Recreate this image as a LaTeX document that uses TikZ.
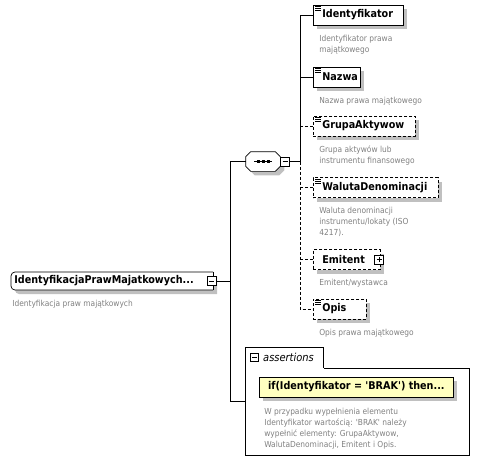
\documentclass[tikz,border=0pt]{standalone}
\usepackage{fontspec}
\setmainfont{DejaVu Sans Condensed}
\usetikzlibrary{positioning}
\usetikzlibrary{shapes.misc, shadows}

\definecolor{descgray}{RGB}{128,128,128}
\definecolor{shadowgray}{RGB}{192,192,192}
\definecolor{assertyellow}{RGB}{255,255,192}

\tikzset{
  shd/.style={drop shadow={shadow xshift=4pt, shadow yshift=-4pt, fill=shadowgray, opacity=1}},
  lbl/.style={inner sep=0pt, font=\bfseries\fontsize{10.7}{12}\selectfont},
  elembase/.style={draw, fill=white, shd, minimum height=20pt, inner xsep=0pt, inner ysep=0pt,
    font=\bfseries\fontsize{10.7}{12}\selectfont, anchor=west},
  elem/.style={elembase, text width=#1, align=left, execute at begin node={\hspace*{9pt}}},
  optelem/.style={elem=#1, dash pattern=on 3pt off 2pt},
  desc/.style={text=descgray, inner sep=0pt, align=left, font=\fontsize{8.3}{11}\selectfont},
  pmbox/.style={draw, fill=white, minimum size=9pt, inner sep=0pt, line width=0.7pt},
  minus/.style={pmbox, path picture={\draw ([xshift=-2.5pt]path picture bounding box.center) -- ([xshift=2.5pt]path picture bounding box.center);}},
  plus/.style={pmbox, path picture={
    \draw ([xshift=-2.5pt]path picture bounding box.center) -- ([xshift=2.5pt]path picture bounding box.center);
    \draw ([yshift=-2.5pt]path picture bounding box.center) -- ([yshift=2.5pt]path picture bounding box.center);}},
  seqbox/.style={minimum width=34pt, minimum height=19pt, inner sep=0pt},
  dashline/.style={dash pattern=on 3pt off 2pt},
}

\begin{document}
\begin{tikzpicture}[x=1pt, y=-1pt, line width=0.7pt]
\useasboundingbox (0,0) rectangle (481,460);

\coordinate (trunk) at (230,0);
\coordinate (branch) at (300,0);

% root element
\fill[shadowgray, rounded corners=4pt] (217,276) -- (15,276) -- (15,294) -- (217,294);
\draw[fill=white, rounded corners=4pt] (213,272) -- (11,272) -- (11,290) -- (213,290);
\draw (213,272) -- (213,290);
\node[lbl, anchor=west] (root) at (14,281) {IdentyfikacjaPrawMajatkowych...};
\node[minus] (rootminus) at (211.5,281) {};
\node[desc, anchor=north west] (rootdesc) at (12,300) {Identyfikacja praw majątkowych};

% sequence
\node[seqbox] (seq) at (263,161.5) {};
\draw[fill=white, shd] ([xshift=5pt]seq.north west) -- ([xshift=-5pt]seq.north east)
  -- ([yshift=-5pt]seq.north east) -- ([yshift=5pt]seq.south east)
  -- ([xshift=-5pt]seq.south east) -- ([xshift=5pt]seq.south west)
  -- ([yshift=5pt]seq.south west) -- ([yshift=-5pt]seq.north west) -- cycle;
\draw (seq.center) ++(-9,0) -- ++(18,0);
\foreach \d in {-5,0,5}
  \fill ([xshift=\d pt]seq.center) +(-1.5,-1.5) rectangle +(1.5,1.5);
\node[minus, right=0pt of seq] (seqminus) {};

% children
\node[elem=90pt] (ident) at (313,15) {Identyfikator};
\node[desc, below right=9pt and 6pt of ident.south west] (identdesc) {Identyfikator prawa\\majątkowego};
\node[elem=47pt] (nazwa) at (313,77) {Nazwa};
\node[desc, below right=9pt and 6pt of nazwa.south west] (nazwadesc) {Nazwa prawa majątkowego};
\node[optelem=102pt] (grupa) at (313,126) {GrupaAktywow};
\node[desc, below right=9pt and 6pt of grupa.south west] (grupadesc) {Grupa aktywów lub\\instrumentu finansowego};
\node[optelem=125pt] (waluta) at (313,187.5) {WalutaDenominacji};
\node[desc, below right=9pt and 6pt of waluta.south west] (walutadesc) {Waluta denominacji\\instrumentu/lokaty (ISO\\4217).};
\node[optelem=67pt] (emitent) at (313,259.5) {Emitent};
\node[plus] (emitentplus) at ([xshift=-1.5pt]emitent.east) {};
\node[desc, below right=9pt and 6pt of emitent.south west] (emitentdesc) {Emitent/wystawca};
\node[optelem=53pt] (opis) at (313,309) {Opis};
\node[desc, below right=9pt and 6pt of opis.south west] (opisdesc) {Opis prawa majątkowego};

% simple content marks
\foreach \n in {ident,nazwa,grupa,waluta,opis}
  \foreach \k in {2,4,6}
    \draw[line width=0.6pt] ([shift={(2,\k)}]\n.north west) -- ++(6,0);

% assertions
\node[minimum width=224pt, minimum height=87pt, inner sep=0pt, anchor=north west] (assertbox) at (245,368) {};
\node[minimum width=78pt, minimum height=20pt, inner sep=0pt, anchor=south west] (asserttab) at (assertbox.north west) {};
\draw (asserttab.south east) |- (asserttab.north west) |- (assertbox.south east) |- (asserttab.south east);
\path (asserttab.north west) -- (assertbox.south west) coordinate[midway] (assertin);
\node[minus, minimum size=8pt] (assertminus) at ([shift={(9.5,10.5)}]asserttab.north west) {};
\node[anchor=west, inner sep=0pt, font=\itshape\fontsize{11}{13}\selectfont] (asserttitle) at ([xshift=4pt]assertminus.east) {assertions};
\node[elembase, fill=assertyellow, minimum width=194pt, align=center] (rule) at (259,387) {if(Identyfikator = \textquotesingle BRAK\textquotesingle) then...};
\node[desc, below right=10pt and 5pt of rule.south west] (ruledesc) {W przypadku wypełnienia elementu\\Identyfikator wartością: \textquotesingle BRAK\textquotesingle{} należy\\wypełnić elementy: GrupaAktywow,\\WalutaDenominacji, Emitent i Opis.};

% connectors
\draw (rootminus.east) -- (rootminus.east -| trunk);
\draw (seq.west) -| (trunk |- assertin) -- (assertin);
\draw (ident.west) -| (branch |- seqminus.east) -- (seqminus.east);
\draw (nazwa.west) -- (nazwa.west -| branch);
\draw[dashline] (branch |- seqminus.east) |- (opis.west);
\draw[dashline] (grupa.west) -- (grupa.west -| branch);
\draw[dashline] (waluta.west) -- (waluta.west -| branch);
\draw[dashline] (emitent.west) -- (emitent.west -| branch);

\end{tikzpicture}
\end{document}
